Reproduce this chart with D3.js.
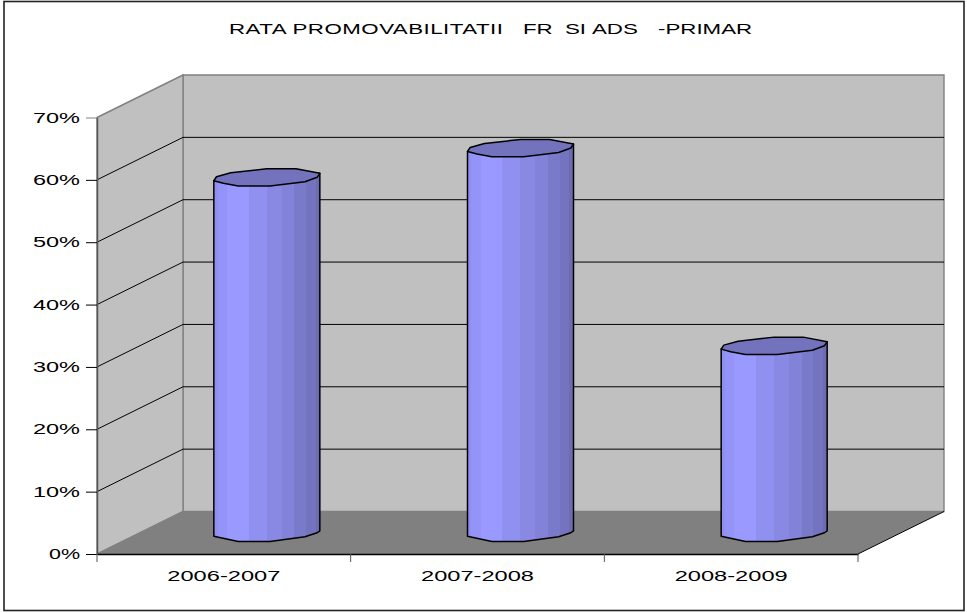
<!DOCTYPE html>
<html><head><meta charset="utf-8">
<script src="https://d3js.org/d3.v7.min.js"></script>
<style>html,body{margin:0;padding:0;background:#fff}svg{display:block}text{font-family:"Liberation Sans",Arial,sans-serif;fill:#000}</style>
</head><body><svg id="c" width="967" height="613"></svg>
<script>
const titleWords = ["RATA PROMOVABILITATII","FR","SI","ADS","-PRIMAR"];
const categories = ["2006-2007","2007-2008","2008-2009"];
const values = [0.57,0.617,0.30];
const yTicks = [0,0.1,0.2,0.3,0.4,0.5,0.6,0.7];

const svg = d3.select("#c");
const y = d3.scaleLinear().domain([0,0.7]).range([554,117.5]);
const x = d3.scaleBand().domain(categories).range([97,858]);
const DX = 86, DY = -42.5;
const [x0,x1] = x.range(), yTop = y(0.7), base = y(0);
const poly = p => "M"+p.map(d=>d.join(",")).join("L")+"Z";

// frame
svg.append("rect").attr("x",4).attr("y",1.5).attr("width",960).attr("height",609).attr("fill","#fff").attr("stroke","#222").attr("stroke-width",1.6);
// walls + floor
svg.append("path").attr("d",poly([[x0+DX,yTop+DY],[x1+DX,yTop+DY],[x1+DX,base+DY],[x0+DX,base+DY]])).attr("fill","#c0c0c0").attr("stroke","#808080").attr("stroke-width",1.4);
svg.append("path").attr("d",poly([[x0,yTop],[x0+DX,yTop+DY],[x0+DX,base+DY],[x0,base]])).attr("fill","#c0c0c0").attr("stroke","#808080").attr("stroke-width",1.4);
svg.append("path").attr("d",poly([[x0,base],[x0+DX,base+DY],[x1+DX,base+DY],[x1,base]])).attr("fill","#808080");
// gridlines
yTicks.slice(1,-1).forEach(t=>{
  svg.append("path").attr("fill","none").attr("stroke","#000").attr("stroke-width",1)
   .attr("d",`M${x0},${y(t)}L${x0+DX},${y(t)+DY}L${x1+DX},${y(t)+DY}`);
});
svg.append("line").attr("x1",x1).attr("y1",base).attr("x2",x1+DX).attr("y2",base+DY).attr("stroke","#000");

// axes
const yAxis = d3.axisLeft(y).tickValues(yTicks).tickFormat(d3.format(".0%")).tickSize(11).tickSizeOuter(0);
const gy = svg.append("g").attr("transform",`translate(${x0},0)`).call(yAxis);
gy.select(".domain").attr("stroke","#555").attr("stroke-width",1.5);
gy.selectAll(".tick line").attr("stroke","#000");
gy.selectAll(".tick").filter(d=>d===0.7).select("line").attr("stroke","#808080");
gy.selectAll("text").attr("x",-17).attr("y",-1).attr("dy","0.36em").attr("font-size",15.5).attr("textLength",d=>d===0?31:47).attr("lengthAdjust","spacingAndGlyphs");

const gx = svg.append("g").attr("transform",`translate(0,${base})`).call(d3.axisBottom(x).tickSize(0).tickSizeOuter(0));
gx.select(".domain").attr("stroke","#000").attr("stroke-width",1.5);
gx.selectAll("text").attr("y",21).attr("dy","0.36em").attr("font-size",15.5).attr("textLength",113).attr("lengthAdjust","spacingAndGlyphs");
gx.selectAll(null).data(d3.range(categories.length+1)).enter().append("line")
  .attr("x1",i=>x0+i*x.bandwidth()).attr("x2",i=>x0+i*x.bandwidth()).attr("y1",0).attr("y2",8).attr("stroke","#555");

// cylinders
const rim = [[-1,.38],[-.95,-.06],[-.68,-.5],[0,-.95],[.55,-.95],[1,-.44],[.95,0],[.72,.5],[.06,.97],[-.54,.97],[-.82,.67]];
const RX = 53, RY = 9;
const facets = [[.035,"#8f8ff0"],[.125,"#9494f8"],[.33,"#9999ff"],[.5,"#9090f0"],[.64,"#8989e3"],[.76,"#8282d8"],[.87,"#7a7acb"],[.96,"#7373bf"],[1,"#6c6cb3"]];
const grad = svg.append("defs").append("linearGradient").attr("id","cyl");
let prev = 0;
facets.forEach(s=>{grad.append("stop").attr("offset",prev).attr("stop-color",s[1]);grad.append("stop").attr("offset",s[0]).attr("stop-color",s[1]);prev=s[0];});
const cx = d => x(d)+x.bandwidth()/2+DX/2;
const floorY = base+DY/2;
const g = svg.selectAll(".bar").data(categories.map((c,i)=>({c,v:values[i]}))).enter().append("g");
g.append("path").attr("fill","url(#cyl)").attr("stroke","#000").attr("stroke-width",1.5).attr("stroke-linejoin","round")
 .attr("d",d=>{
   const X=cx(d.c), T=y(d.v)+DY/2;
   const pts=[[X-RX,T+RY*.38],[X+RX,T-RY*.44]];
   [[1,-.2],[.95,0],[.72,.45],[.06,.97],[-.54,.97],[-1,.38]].forEach(p=>pts.push([X+RX*p[0],floorY+RY*p[1]]));
   return poly(pts);
 });
g.append("path").attr("fill","#7272bd").attr("stroke","#000").attr("stroke-width",1.5).attr("stroke-linejoin","round")
 .attr("d",d=>{const X=cx(d.c),T=y(d.v)+DY/2;return poly(rim.map(p=>[X+RX*p[0],T+RY*p[1]]));});

// title: one stretched text, word runs placed as in the reference
const SX = 1.44;
const titleX = [229,523,565,592,658];
const title = svg.append("text").attr("transform",`scale(${SX},1)`).attr("y",34).attr("font-size",15.5);
titleWords.forEach((w,i)=>{
  title.append("tspan").attr("x",titleX[i]/SX).attr("letter-spacing",i===0?0.33:0).text(w);
  if(i<titleWords.length-1) title.append("tspan").text(" ");
});
</script></body></html>
